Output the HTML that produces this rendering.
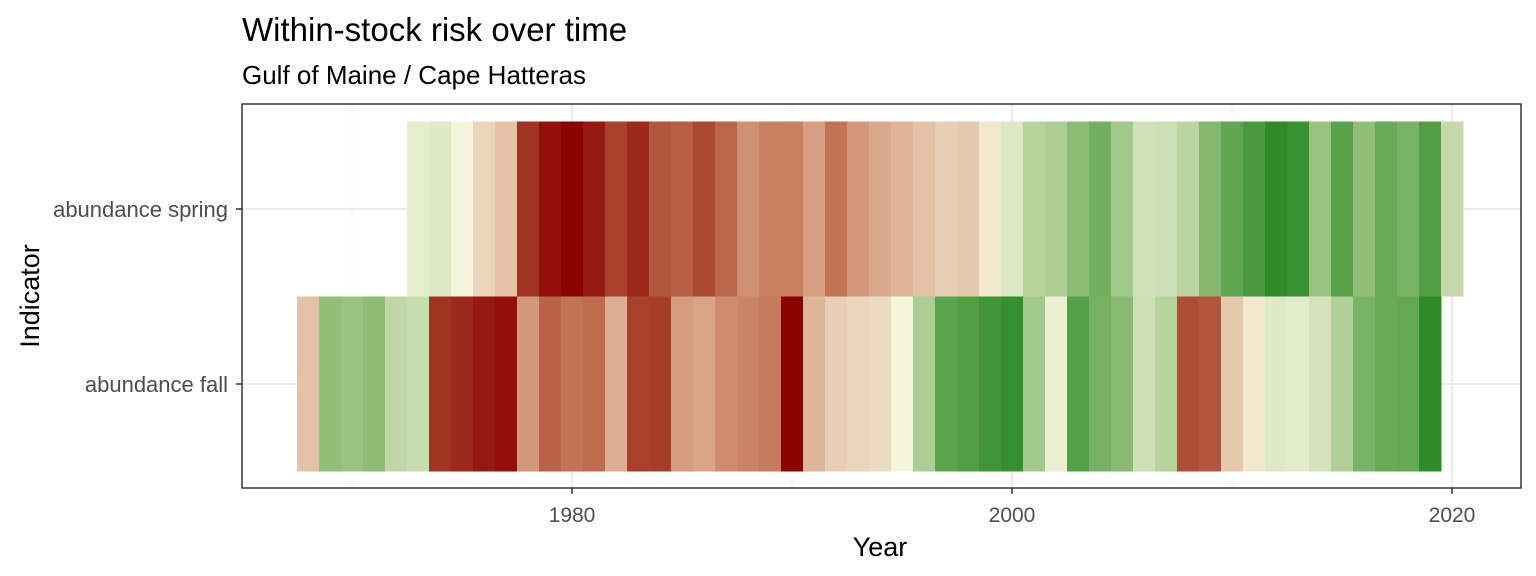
<!DOCTYPE html>
<html><head><meta charset="utf-8"><style>
body{margin:0;background:#fff;font-family:"Liberation Sans",Arial,sans-serif}
svg{display:block}
</style></head><body>
<svg id="chart" width="1536" height="576">
<text x="242" y="41" font-size="33" fill="#000">Within-stock risk over time</text>
<text x="242" y="84" font-size="26" fill="#000">Gulf of Maine / Cape Hatteras</text>
<g id="grid"></g><g id="tiles"></g><g id="axes"></g>
<text x="880" y="556" font-size="27" text-anchor="middle" fill="#000">Year</text>
<text transform="translate(39,296) rotate(-90)" font-size="27" text-anchor="middle" fill="#000">Indicator</text>
</svg>
<script>
const indicators = ["abundance spring", "abundance fall"];
const springStart = 1973;
const springRisk = [0.45,0.43,0.5,0.55,0.58,0.9,0.97,1.0,0.95,0.87,0.92,0.82,0.8,0.85,0.78,0.68,0.72,0.72,0.64,0.75,0.66,0.62,0.6,0.58,0.56,0.57,0.52,0.42,0.32,0.3,0.23,0.17,0.28,0.38,0.37,0.33,0.21,0.13,0.07,0.0,0.03,0.26,0.11,0.24,0.15,0.19,0.09,0.35];
const fallStart = 1968;
const fallRisk = [0.58,0.24,0.26,0.23,0.34,0.36,0.9,0.92,0.95,0.97,0.66,0.79,0.75,0.77,0.61,0.87,0.88,0.65,0.63,0.69,0.71,0.73,1.0,0.6,0.56,0.55,0.54,0.5,0.3,0.12,0.09,0.05,0.02,0.28,0.47,0.1,0.18,0.22,0.37,0.32,0.84,0.82,0.57,0.52,0.43,0.44,0.39,0.31,0.19,0.15,0.14,0.0];
const xTicks = [1980, 2000, 2020];
const xMinor = [1970, 1990, 2010];

const NS = "http://www.w3.org/2000/svg";
const L = 242, R = 1521, T = 104, B = 488;
const x = y => 572 + (y - 1980) * 22.0;
const rowY = i => 209 + i * 175;
const rowH = 175;
const stops = [[0,[46,139,40]],[0.12,[92,164,76]],[0.25,[149,192,125]],[0.37,[205,223,180]],[0.5,[245,245,220]],[0.62,[219,168,140]],[0.75,[194,115,85]],[0.88,[165,61,40]],[1,[139,0,0]]];
function color(v) {
  for (let i = 1; i < stops.length; i++) {
    if (v <= stops[i][0]) {
      const [a, ca] = stops[i-1], [b, cb] = stops[i];
      const t = (v - a) / (b - a);
      return `rgb(${ca.map((c, k) => Math.round(c + (cb[k] - c) * t)).join(",")})`;
    }
  }
  return "rgb(139,0,0)";
}
function mk(tag, attrs, parent) {
  const e = document.createElementNS(NS, tag);
  for (const k in attrs) e.setAttribute(k, attrs[k]);
  parent.appendChild(e); return e;
}
const grid = document.getElementById("grid"), tiles = document.getElementById("tiles"), axes = document.getElementById("axes");
xMinor.forEach(yr => {
  const l = mk("line", {x1: x(yr), x2: x(yr), y1: T, y2: B, stroke: "#F2F2F2", "stroke-width": 1}, grid);
  
  
});
xTicks.forEach(yr => {
  const l = mk("line", {x1: x(yr), x2: x(yr), y1: T, y2: B, stroke: "#EBEBEB", "stroke-width": 2}, grid);
  
  
});
indicators.forEach((n, i) => {
  const l = mk("line", {x1: L, x2: R, y1: rowY(i), y2: rowY(i), stroke: "#EBEBEB", "stroke-width": 2}, grid);
  
  
});
function drawRow(vals, start, i, name) {
  vals.forEach((v, k) => {
    const yr = start + k;
    const x0 = x(yr - 0.5), x1 = x(yr + 0.5);
    const rc = mk("rect", {x: x0, y: rowY(i) - rowH / 2, width: x1 - x0 + 0.5, height: rowH, fill: color(v)}, tiles);
    
    
  });
}
drawRow(springRisk, springStart, 0, 'spring');
drawRow(fallRisk, fallStart, 1, 'fall');
const border = mk("rect", {x: L, y: T, width: R - L, height: B - T, fill: "none", stroke: "#333333", "stroke-width": 1.5}, axes);


xTicks.forEach(yr => {
  const t = mk("line", {x1: x(yr), x2: x(yr), y1: B, y2: B + 6, stroke: "#333", "stroke-width": 1.5}, axes);
  
  
  const lb = mk("text", {x: x(yr), y: B + 34, "font-size": 21, "text-anchor": "middle", fill: "#4D4D4D"}, axes);
  lb.textContent = yr;
  
  
});
indicators.forEach((n, i) => {
  const t = mk("line", {x1: L - 6, x2: L, y1: rowY(i), y2: rowY(i), stroke: "#333", "stroke-width": 1.5}, axes);
  
  
  const lb = mk("text", {x: L - 14, y: rowY(i) + 8, "font-size": 22, "text-anchor": "end", fill: "#4D4D4D"}, axes);
  lb.textContent = n;
  
  
});
</script>
</body></html>
